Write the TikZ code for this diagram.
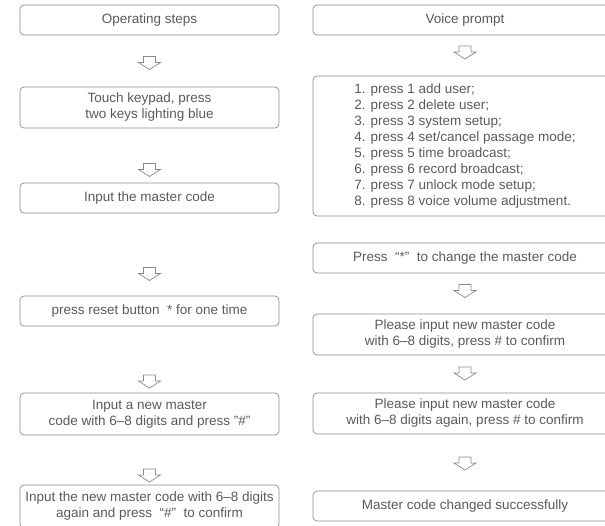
\documentclass[tikz,border=0pt]{standalone}
\usepackage{fontspec}
\setmainfont{Liberation Sans}
\definecolor{boxgray}{HTML}{8A8A8A}
\definecolor{txtgray}{HTML}{5A5A5A}
\tikzset{
  box/.style={draw=boxgray, line width=0.7pt, rounded corners=4pt,
    text=txtgray, align=center, inner sep=0pt,
    font=\fontsize{13.5}{16}\selectfont},
  lbox/.style={box, minimum width=259pt},
  rbox/.style={box, minimum width=304pt},
  downarr/.pic={
    \draw[boxgray, line width=0.7pt, line join=miter]
      (-6,-6.5) -- (6,-6.5) -- (6,-0.5) -- (11,-0.5) -- (0,6.5)
      -- (-11,-0.5) -- (-6,-0.5) -- cycle;
  }
}
\begin{document}
\begin{tikzpicture}[x=1pt,y=-1pt]
      \useasboundingbox (0,0) rectangle (605,525);
      \clip (0,0) rectangle (605,525);
      \draw
        (149.5,20) node[lbox, minimum height=30pt] (op){Operating steps}
        (149.5,107.5) node[lbox, minimum height=41pt] (touch){Touch keypad, press\\two keys lighting blue}
        (149.5,198) node[lbox, minimum height=30pt] (master){Input the master code}
        (149.5,311) node[lbox, minimum height=30pt] (reset){press reset button\ \ * for one time}
        (149.5,414) node[lbox, minimum height=42pt] (new){Input a new master\\code with 6--8 digits and press \symbol{34}\#\symbol{34}}
        (149.5,506.5) node[lbox, minimum height=43pt] (again){Input the new master code with 6--8 digits\\again and press\ \ “\#”\ \ to confirm};
      \draw
        (465,20) node[rbox, minimum height=30pt] (voice){Voice prompt}
        (465,146) node[rbox, minimum height=140pt, align=left] (menu){1. press 1 add user;\\
          2. press 2 delete user;\\
          3. press 3 system setup;\\
          4. press 4 set/cancel passage mode;\\
          5. press 5 time broadcast;\\
          6. press 6 record broadcast;\\
          7. press 7 unlock mode setup;\\
          8. press 8 voice volume adjustment.}
        (465,258) node[rbox, minimum height=30pt] (star){Press\ \ “*”\ \ to change the master code}
        (465,334.5) node[rbox, minimum height=41pt] (first){Please input new master code\\with 6--8 digits, press \# to confirm}
        (465,413.5) node[rbox, minimum height=41pt] (second){Please input new master code\\with 6--8 digits again, press \# to confirm}
        (465,506) node[rbox, minimum height=30pt] (done){Master code changed successfully};
      \begin{scope}
        \pic (a1) at (149.5,63) {downarr};
        \pic (a2) at (149.5,170) {downarr};
        \pic (a3) at (149.5,274) {downarr};
        \pic (a4) at (149.5,381.5) {downarr};
        \pic (a5) at (149.5,475.5) {downarr};
        \pic (b1) at (465,52.5) {downarr};
        \pic (b2) at (465,291) {downarr};
        \pic (b3) at (465,373.5) {downarr};
        \pic (b4) at (465,463.5) {downarr};
      \end{scope}
    \end{tikzpicture}
\end{document}
